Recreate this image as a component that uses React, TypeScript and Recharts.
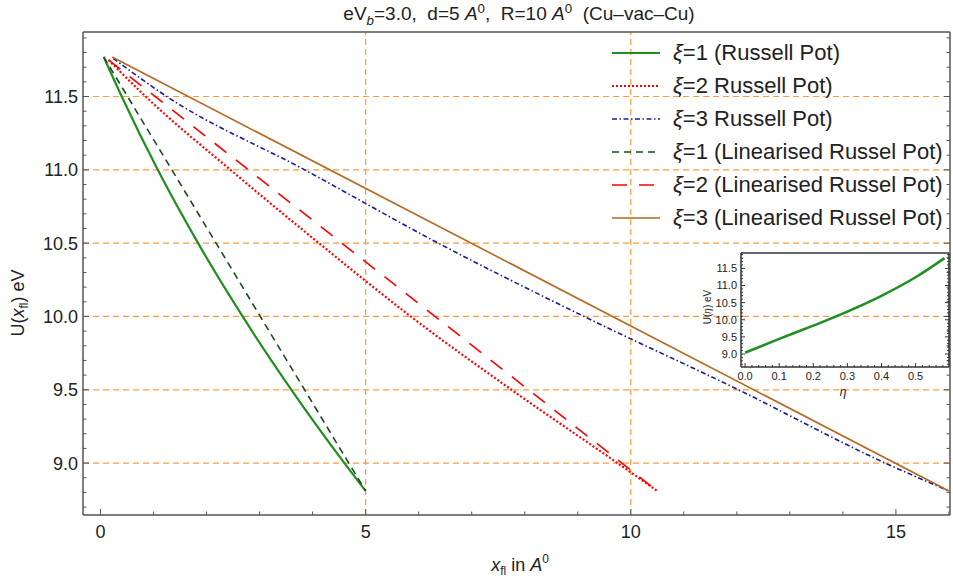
import React from "react";
import { LineChart, Line, XAxis, YAxis, ReferenceLine, Legend } from "recharts";

const FONT = "'Liberation Sans', Arial, Helvetica, sans-serif";
const FRAME = "#555";
const GRID = "#ff9a3c";

// Russell potential, xi = 1, 2, 3
const r1X = [0.06, 0.4, 1.08, 1.84, 2.68, 3.6, 4.6, 5.0];
const r1Y = [11.77, 11.5, 11.0, 10.5, 10.0, 9.5, 9.0, 8.81];
const r2X = [0.15, 0.85, 2.45, 4.12, 5.85, 7.75, 9.75, 10.5];
const r2Y = [11.75, 11.5, 11.0, 10.5, 10.0, 9.5, 9.0, 8.81];
const r3X = [0.24, 1.25, 3.85, 6.37, 9.12, 12.03, 14.8, 16.0];
const r3Y = [11.76, 11.5, 11.0, 10.5, 10.0, 9.5, 9.0, 8.81];
// linearised, xi = 1, 2, 3
const l1X = [0.06, 5.0];
const l1Y = [11.77, 8.81];
const l2X = [0.15, 10.5];
const l2Y = [11.75, 8.81];
const l3X = [0.22, 16.0];
const l3Y = [11.77, 8.81];

// inset U(eta)
const etaX = [0, 0.1, 0.2, 0.3, 0.4, 0.5, 0.585];
const etaU = [9.04, 9.44, 9.83, 10.24, 10.7, 11.24, 11.8];

const xMajor = [0, 5, 10, 15];
const yMajor = [9.0, 9.5, 10.0, 10.5, 11.0, 11.5];
const xGrid = [5, 10];
const yGrid = [9.0, 9.5, 10.0, 10.5, 11.0, 11.5];
const insetXMajor = [0, 0.1, 0.2, 0.3, 0.4, 0.5];
const insetYMajor = [9.0, 9.5, 10.0, 10.5, 11.0, 11.5];

const legendLabels = [
  "=1 (Russell Pot)",
  "=2 Russell Pot)",
  "=3 Russell Pot)",
  "=1 (Linearised Russel Pot)",
  "=2 (Linearised Russel Pot)",
  "=3 (Linearised Russel Pot)",
];

const zip = (xs: number[], ys: number[]) => xs.map((x, i) => ({ x, y: ys[i] }));
const range = (a: number, b: number, s: number) => {
  const out: number[] = [];
  for (let v = a; v <= b + 1e-9; v += s) out.push(Math.round(v * 1000) / 1000);
  return out;
};

const series = [
  { key: "r1", data: zip(r1X, r1Y), color: "#1f8f1f", dash: undefined, w: 2.2, type: "monotone" },
  { key: "r2", data: zip(r2X, r2Y), color: "#ff0000", dash: "2 2", w: 2.2, type: "monotone" },
  { key: "r3", data: zip(r3X, r3Y), color: "#1c1c96", dash: "5 2.5 1.5 2.5", w: 1.6, type: "monotone" },
  { key: "l1", data: zip(l1X, l1Y), color: "#1e4a1e", dash: "7 5", w: 1.6, type: "linear" },
  { key: "l2", data: zip(l2X, l2Y), color: "#ff0000", dash: "15 12", w: 1.6, type: "linear" },
  { key: "l3", data: zip(l3X, l3Y), color: "#b5681f", dash: undefined, w: 1.6, type: "linear" },
];

type Side = "bottom" | "top" | "left" | "right";
function makeTick(side: Side, majors: number[], o: { major: number; minor: number; fs?: number; off?: number; digits?: number; label?: boolean; color?: string }) {
  return (props: any) => {
    const { x, y, payload } = props;
    const v = payload.value;
    const isMajor = majors.some((m) => Math.abs(m - v) < 1e-6);
    const len = isMajor ? o.major : o.minor;
    const txt = v.toFixed(o.digits ?? 0);
    const c = o.color ?? FRAME;
    let ln: any;
    if (side === "bottom") ln = <line x1={x} x2={x} y1={y} y2={y - len} stroke={c} strokeWidth={1} />;
    if (side === "top") ln = <line x1={x} x2={x} y1={y} y2={y + len} stroke={c} strokeWidth={1} />;
    if (side === "left") ln = <line x1={x} x2={x + len} y1={y} y2={y} stroke={c} strokeWidth={1} />;
    if (side === "right") ln = <line x1={x} x2={x - len} y1={y} y2={y} stroke={c} strokeWidth={1} />;
    return (
      <g>
        {ln}
        {o.label && isMajor && side === "bottom" && (
          <text x={x} y={y + (o.off ?? 22)} textAnchor="middle" fontSize={o.fs} fontFamily={FONT} fill="#222">{txt}</text>
        )}
        {o.label && isMajor && side === "left" && (
          <text x={x - (o.off ?? 5)} y={y + (o.fs ?? 18) * 0.36} textAnchor="end" fontSize={o.fs} fontFamily={FONT} fill="#222">{txt}</text>
        )}
      </g>
    );
  };
}

const XLabel = () => (
  <text x={520} y={571} textAnchor="middle" fontSize={18} fontFamily={FONT} fill="#222">
    <tspan fontStyle="italic">x</tspan>
    <tspan fontSize={12} dy={4}>fl</tspan>
    <tspan dy={-4}> in </tspan>
    <tspan fontStyle="italic">A</tspan>
    <tspan fontSize={12} dy={-8}>0</tspan>
  </text>
);

const YLabel = () => (
  <text transform="translate(24,303) rotate(-90)" textAnchor="middle" fontSize={18} fontFamily={FONT} fill="#222">
    U(<tspan fontStyle="italic">x</tspan>
    <tspan fontSize={12} dy={4}>fl</tspan>
    <tspan dy={-4}>) eV</tspan>
  </text>
);

const InsetXLabel = () => (
  <text x={143} y={151} textAnchor="middle" fontSize={12} fontStyle="italic" fontFamily={FONT} fill="#222">η</text>
);
const InsetYLabel = () => (
  <text transform="translate(11,62) rotate(-90)" textAnchor="middle" fontSize={10} fontFamily={FONT} fill="#222">
    U(<tspan fontStyle="italic">η</tspan>) eV
  </text>
);

const LegendContent = () => (
  <div style={{ fontFamily: FONT, fontSize: 22, color: "#222" }}>
    {series.map((s, i) => (
      <div key={s.key} style={{ display: "flex", alignItems: "center", height: 33, whiteSpace: "nowrap" }}>
        <svg width={48} height={10} style={{ marginRight: 13 }}>
          <line x1={0} x2={48} y1={5} y2={5} stroke={s.color} strokeWidth={s.w} strokeDasharray={s.dash} />
        </svg>
        <span>
          <i>ξ</i>
          {legendLabels[i]}
        </span>
      </div>
    ))}
  </div>
);

function Inset() {
  const axisLine = { stroke: "#333", strokeWidth: 1.5 };
  const xt = range(0, 0.58, 0.02);
  const yt = range(8.7, 11.9, 0.1);
  return (
    <div style={{ position: "absolute", left: 700, top: 245 }}>
      <LineChart width={253} height={160} margin={{ top: 7, right: 3, bottom: 8, left: 11 }}>
        <XAxis type="number" dataKey="x" domain={[-0.012, 0.598]} allowDataOverflow ticks={xt} interval={0} height={30} tickSize={0} tickMargin={0} tickLine={false} axisLine={axisLine}
          tick={makeTick("bottom", insetXMajor, { major: 4, minor: 2, fs: 11, off: 13, digits: 1, label: true, color: "#333" })} label={<InsetXLabel />} />
        <XAxis xAxisId="top" orientation="top" type="number" domain={[-0.012, 0.598]} allowDataOverflow ticks={xt} interval={0} height={1} tickSize={0} tickMargin={0} tickLine={false} axisLine={axisLine}
          tick={makeTick("top", insetXMajor, { major: 4, minor: 2, color: "#333" })} />
        <YAxis type="number" domain={[8.62, 11.95]} allowDataOverflow ticks={yt} interval={0} width={30} tickSize={0} tickMargin={0} tickLine={false} axisLine={axisLine}
          tick={makeTick("left", insetYMajor, { major: 4, minor: 2, fs: 11, off: 4, digits: 1, label: true, color: "#333" })} label={<InsetYLabel />} />
        <YAxis yAxisId="right" orientation="right" type="number" domain={[8.62, 11.95]} allowDataOverflow ticks={yt} interval={0} width={1} tickSize={0} tickMargin={0} tickLine={false} axisLine={axisLine}
          tick={makeTick("right", insetYMajor, { major: 4, minor: 2, color: "#333" })} />
        <Line data={zip(etaX, etaU)} dataKey="y" type="monotone" stroke="#1f8f1f" strokeWidth={2.5} dot={false} isAnimationActive={false} />
      </LineChart>
    </div>
  );
}

export default function App() {
  const axisLine = { stroke: FRAME, strokeWidth: 1.5 };
  const xt = range(0, 16, 1);
  const yt = range(8.7, 11.9, 0.1);
  return (
    <div style={{ position: "absolute", left: 0, top: 0, width: 953, height: 577, background: "#fff", fontFamily: FONT }}>
      <div style={{ position: "absolute", left: 269, top: 2, width: 500, textAlign: "center", fontSize: 19, color: "#222", whiteSpace: "nowrap", lineHeight: "24px" }}>
        eV<sub style={{ fontSize: "0.7em", fontStyle: "italic", lineHeight: 0 }}>b</sub>=3.0,&nbsp; d=5 <i>A</i>
        <sup style={{ fontSize: "0.7em", lineHeight: 0 }}>0</sup>,&nbsp; R=10 <i>A</i>
        <sup style={{ fontSize: "0.7em", lineHeight: 0 }}>0</sup>&nbsp; (Cu–vac–Cu)
      </div>
      <LineChart width={953} height={577} margin={{ top: 31, right: 2, bottom: 32, left: 43 }}>
        <XAxis type="number" dataKey="x" domain={[-0.33, 16.02]} allowDataOverflow ticks={xt} interval={0} height={30} tickSize={0} tickMargin={0} tickLine={false} axisLine={axisLine}
          tick={makeTick("bottom", xMajor, { major: 6, minor: 3.5, fs: 18, off: 23, digits: 0, label: true })} label={<XLabel />} />
        <XAxis xAxisId="top" orientation="top" type="number" domain={[-0.33, 16.02]} allowDataOverflow ticks={xt} interval={0} height={1} tickSize={0} tickMargin={0} tickLine={false} axisLine={axisLine}
          tick={makeTick("top", xMajor, { major: 6, minor: 3.5 })} />
        <YAxis type="number" domain={[8.646, 11.94]} allowDataOverflow ticks={yt} interval={0} width={40} tickSize={0} tickMargin={0} tickLine={false} axisLine={axisLine}
          tick={makeTick("left", yMajor, { major: 6, minor: 3.5, fs: 18, off: 5, digits: 1, label: true })} label={<YLabel />} />
        <YAxis yAxisId="right" orientation="right" type="number" domain={[8.646, 11.94]} allowDataOverflow ticks={yt} interval={0} width={1} tickSize={0} tickMargin={0} tickLine={false} axisLine={axisLine}
          tick={makeTick("right", yMajor, { major: 6, minor: 3.5 })} />
        {yGrid.map((v) => (
          <ReferenceLine key={"y" + v} y={v} stroke={GRID} strokeDasharray="6 4" strokeWidth={1.2} />
        ))}
        {xGrid.map((v) => (
          <ReferenceLine key={"x" + v} x={v} stroke={GRID} strokeDasharray="6 4" strokeWidth={1.2} />
        ))}
        {series.map((s) => (
          <Line key={s.key} data={s.data} dataKey="y" type={s.type as any} stroke={s.color} strokeWidth={s.w} strokeDasharray={s.dash} dot={false} activeDot={false} isAnimationActive={false} />
        ))}
        <Legend layout="vertical" align="center" verticalAlign="middle" content={<LegendContent />} wrapperStyle={{ left: 612, top: 36, width: 340 }} />
      </LineChart>
      <Inset />
    </div>
  );
}
